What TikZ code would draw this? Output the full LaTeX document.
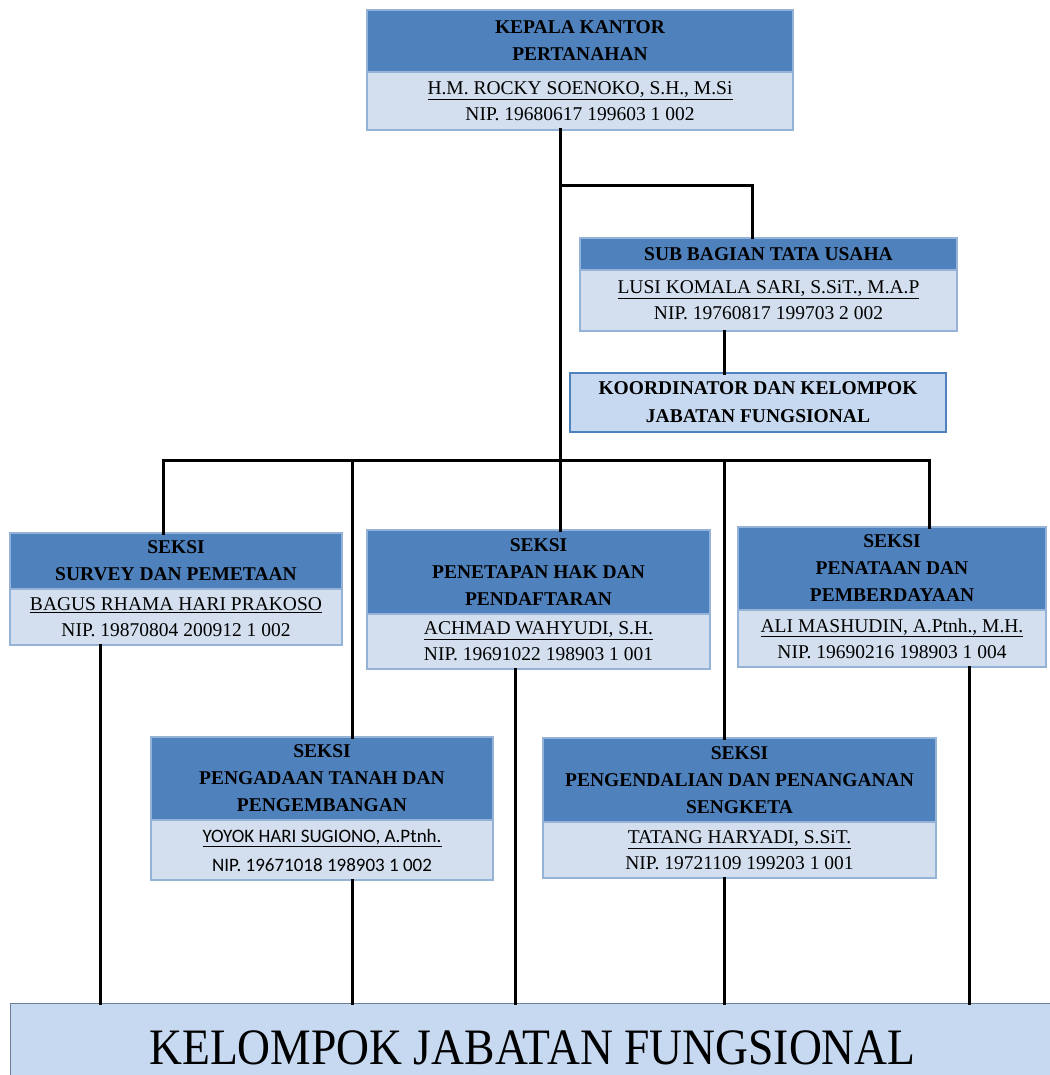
\documentclass[tikz,border=0pt]{standalone}
\usepackage{fontspec}
\usepackage{graphicx}
\setmainfont{Liberation Serif}
\newfontfamily\calibri{Carlito}
\definecolor{biru}{HTML}{4F81BD}
\definecolor{birumuda}{HTML}{D3DFEE}
\definecolor{birubawah}{HTML}{C6D9F0}
\definecolor{garis}{HTML}{95B3D7}

\begin{document}
\begin{tikzpicture}[x=1pt,y=-1pt,
  judul/.style={draw=garis, line width=1.5pt, fill=biru, anchor=north west,
    inner sep=0pt, outer sep=0pt, align=center,
    font=\bfseries\fontsize{19.5}{27}\selectfont},
  isi/.style={draw=garis, line width=1.5pt, fill=birumuda, anchor=north west,
    inner sep=0pt, outer sep=0pt, align=center,
    font=\fontsize{19.5}{26}\selectfont},
  garishub/.style={line width=3pt, line cap=rect}]
\useasboundingbox (0,0) rectangle (1049,1075);

% kepala kantor
\node[judul, minimum width=426, minimum height=62] (kepala) at (367,10) {KEPALA KANTOR\\PERTANAHAN};
\node[isi, minimum width=426, minimum height=58] (isikepala) at (kepala.south west)
  {\underline{H.M. ROCKY SOENOKO, S.H., M.Si}\\NIP. 19680617 199603 1 002};

% sub bagian tata usaha
\node[judul, minimum width=377, minimum height=32] (subbag) at (580,238) {SUB BAGIAN TATA USAHA};
\node[isi, minimum width=377, minimum height=61] (isisubbag) at (subbag.south west)
  {\underline{LUSI KOMALA SARI, S.SiT., M.A.P}\\NIP. 19760817 199703 2 002};
\node[isi, draw=biru, fill=birubawah, minimum width=376, minimum height=59,
  font=\bfseries\fontsize{19.5}{28}\selectfont] (koordinator) at (570,373)
  {KOORDINATOR DAN KELOMPOK\\JABATAN FUNGSIONAL};

% seksi baris atas
\node[judul, minimum width=332, minimum height=56] (survey) at (10,533) {SEKSI\\SURVEY DAN PEMETAAN};
\node[isi, minimum width=332, minimum height=56] (isisurvey) at (survey.south west)
  {\underline{BAGUS RHAMA HARI PRAKOSO}\\NIP. 19870804 200912 1 002};
\node[judul, minimum width=343, minimum height=84] (penetapan) at (367,530) {SEKSI\\PENETAPAN HAK DAN\\PENDAFTARAN};
\node[isi, minimum width=343, minimum height=55] (isipenetapan) at (penetapan.south west)
  {\underline{ACHMAD WAHYUDI, S.H.}\\NIP. 19691022 198903 1 001};
\node[judul, minimum width=308, minimum height=83] (penataan) at (738,527) {SEKSI\\PENATAAN DAN\\PEMBERDAYAAN};
\node[isi, minimum width=308, minimum height=57] (isipenataan) at (penataan.south west)
  {\underline{ALI MASHUDIN, A.Ptnh., M.H.}\\NIP. 19690216 198903 1 004};

% seksi baris bawah
\node[judul, minimum width=342, minimum height=83] (pengadaan) at (151,737) {SEKSI\\PENGADAAN TANAH DAN\\PENGEMBANGAN};
\node[isi, minimum width=342, minimum height=60, font=\calibri\fontsize{19}{29}\selectfont] (isipengadaan) at (pengadaan.south west)
  {\underline{YOYOK HARI SUGIONO, A.Ptnh.}\\NIP. 19671018 198903 1 002};
\node[judul, minimum width=393, minimum height=84] (pengendalian) at (543,738) {SEKSI\\PENGENDALIAN DAN PENANGANAN\\SENGKETA};
\node[isi, minimum width=393, minimum height=56] (isipengendalian) at (pengendalian.south west)
  {\underline{TATANG HARYADI, S.SiT.}\\NIP. 19721109 199203 1 001};

% kelompok jabatan fungsional
\node[isi, draw=gray!60!biru, fill=birubawah, line width=1pt, minimum width=1045, minimum height=80,
  text height=42pt, text depth=0pt, font=\fontsize{45.6}{50}\selectfont] (kelompok) at (10,1003)
  {\scalebox{1}[1.12]{KELOMPOK JABATAN FUNGSIONAL}};

% garis penghubung
\coordinate (cabang) at (560,186);
\coordinate (pusat) at (560,460);
\coordinate (jalur) at (724,0);
\draw[garishub] (isikepala.south -| pusat) -- (pusat);
\draw[garishub] (cabang) -| ([xshift=-16]subbag.north);
\draw[garishub] (isisubbag.south -| jalur) -- (koordinator.north -| jalur);
\coordinate (kiri) at (163,460);
\coordinate (kanan) at (929,460);
\draw[garishub] (kiri) -- (kanan);
\foreach \x/\n in {163/survey, 352/pengadaan, 560/penetapan, 724/pengendalian, 929/penataan} {
  \coordinate (t\n) at (\x,460);
  \draw[garishub] (t\n) -- (t\n |- \n.north);
}
\foreach \x/\n in {100/survey, 352/pengadaan, 515/penetapan, 724/pengendalian, 969/penataan} {
  \coordinate (b\n) at (\x,0);
  \draw[garishub] (b\n |- isi\n.south) -- (b\n |- kelompok.north);
}
\end{tikzpicture}
\end{document}
